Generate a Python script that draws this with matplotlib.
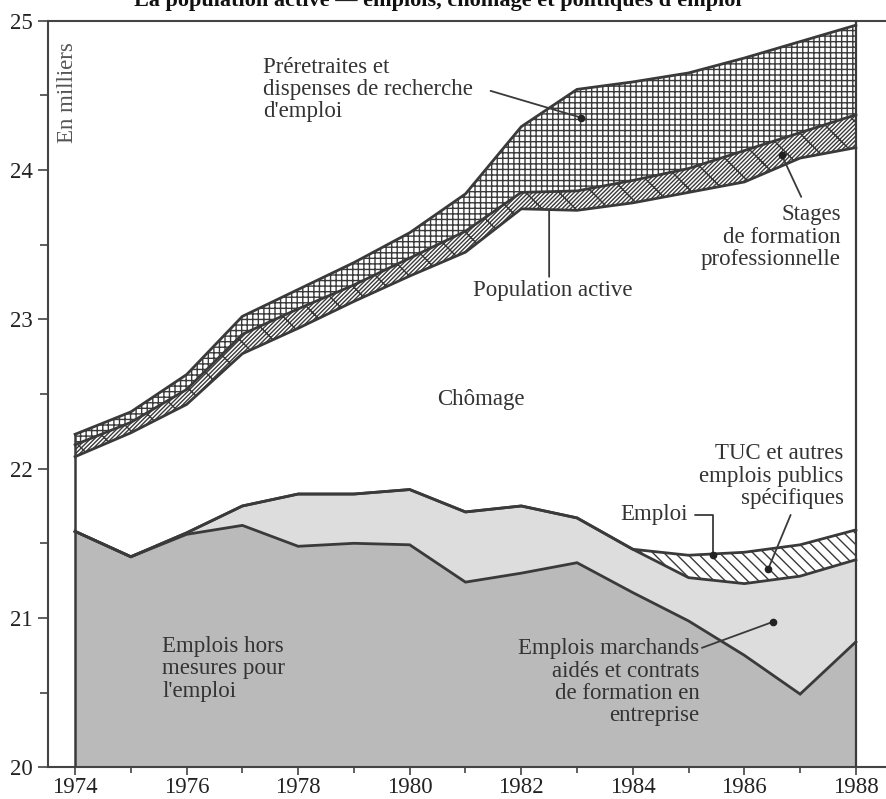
import matplotlib
matplotlib.use("Agg")
import matplotlib.pyplot as plt
from matplotlib.ticker import MultipleLocator

# ---------------- data (millions, levels) ----------------
years = list(range(1974, 1989))
emplois_hors_mesures = [21.58, 21.41, 21.56, 21.62, 21.48, 21.50, 21.49, 21.24,
                        21.30, 21.37, 21.17, 20.98, 20.75, 20.49, 20.84]
emploi_hors_tuc = [21.58, 21.41, 21.57, 21.75, 21.83, 21.83, 21.86, 21.71,
                   21.75, 21.67, 21.46, 21.27, 21.23, 21.28, 21.39]
emploi_total = [21.58, 21.41, 21.57, 21.75, 21.83, 21.83, 21.86, 21.71,
                21.75, 21.67, 21.46, 21.42, 21.44, 21.49, 21.59]
population_active = [22.08, 22.24, 22.43, 22.77, 22.94, 23.12, 23.29, 23.45,
                     23.74, 23.73, 23.78, 23.85, 23.92, 24.08, 24.15]
pop_plus_stages = [22.16, 22.31, 22.53, 22.90, 23.07, 23.23, 23.41, 23.59,
                   23.85, 23.86, 23.93, 24.01, 24.13, 24.25, 24.37]
pop_plus_stages_preretraites = [22.23, 22.38, 22.63, 23.02, 23.20, 23.38, 23.58, 23.84,
                                24.29, 24.54, 24.59, 24.65, 24.75, 24.86, 24.97]

year_ticks = [1974, 1976, 1978, 1980, 1982, 1984, 1986, 1988]
y_ticks = [20, 21, 22, 23, 24, 25]
title = "La population active — emplois, chômage et politiques d'emploi"

# ---------------- style ----------------
plt.rcParams['font.family'] = ['Liberation Serif', 'DejaVu Serif']
plt.rcParams['hatch.color'] = '#3a3a3a'
plt.rcParams['hatch.linewidth'] = 1.0

LINE = '#3a3a3a'
TXT = '#333333'
DARK = '#bababa'
LIGHT = '#dddddd'

fig = plt.figure(figsize=(8.86, 7.99), dpi=100)
ax = fig.add_axes([0.0542, 0.0397, 1.0 - 0.0542, 0.9741 - 0.0397])
ax.set_xlim(1973.515, 1988.54)
ax.set_ylim(20, 25)

y0 = 20
ax.fill_between(years, y0, emplois_hors_mesures, color=DARK, lw=0, zorder=1)
ax.fill_between(years, emplois_hors_mesures, emploi_hors_tuc, color=LIGHT, lw=0, zorder=1)
ax.fill_between(years, emploi_hors_tuc, emploi_total, facecolor='white',
                edgecolor=LINE, hatch='\\\\\\', lw=0, zorder=1)
ax.fill_between(years, population_active, pop_plus_stages, facecolor='white',
                edgecolor=LINE, hatch='////////\\', lw=0, zorder=1)
ax.fill_between(years, pop_plus_stages, pop_plus_stages_preretraites, facecolor='white',
                edgecolor=LINE, hatch='+++', lw=0, zorder=1)

for s in (emplois_hors_mesures, emploi_hors_tuc, emploi_total, population_active,
          pop_plus_stages, pop_plus_stages_preretraites):
    ax.plot(years, s, color=LINE, lw=2.0, solid_joinstyle='miter', zorder=3)

ax.vlines(years[0], y0, pop_plus_stages_preretraites[0], color=LINE, lw=1.8, zorder=3)
ax.axvline(years[-1], color=LINE, lw=1.6, zorder=3)

# ---------------- axes styling ----------------
ax.spines['right'].set_visible(False)
for sp in ('left', 'top', 'bottom'):
    ax.spines[sp].set_color('#444444')
    ax.spines[sp].set_linewidth(1.5)

ax.set_xticks(year_ticks)
ax.set_xticklabels([str(y) for y in year_ticks])
ax.xaxis.set_minor_locator(MultipleLocator(1))
ax.set_yticks(y_ticks)
ax.set_yticklabels([str(y) for y in y_ticks])
ax.yaxis.set_minor_locator(MultipleLocator(0.5))
ax.tick_params(axis='x', which='major', direction='out', length=5.5, width=1.2,
               colors='#444444', labelcolor='#222222', labelsize=16.5, pad=1.5)
ax.tick_params(axis='x', which='minor', direction='out', length=4, width=1.2, colors='#444444')
ax.tick_params(axis='y', which='major', direction='out', length=7, width=1.2,
               colors='#444444', labelcolor='#222222', labelsize=16.5, pad=4)
ax.tick_params(axis='y', which='minor', direction='out', length=5.5, width=1.2, colors='#444444')

# ---------------- texts ----------------
fs = 16.5
LS = 1.08
ax.text(1973.87, 24.52, 'En milliers', rotation=90, ha='center', va='center',
        fontsize=16.5, color='#555555')

ax.text(1977.37, 24.54, "Préretraites et\ndispenses de recherche\nd'emploi",
        ha='left', va='center', fontsize=fs, color=TXT, linespacing=LS)
ax.annotate('', xy=(1983.08, 24.35), xytext=(1981.45, 24.53),
            arrowprops=dict(arrowstyle='-', color=LINE, lw=1.3, shrinkA=0, shrinkB=0))
ax.plot([1983.08], [24.35], 'o', color='#222222', ms=4.5, zorder=5)

ax.text(1982.57, 23.19, 'Population active', ha='center', va='center',
        fontsize=fs, color=TXT)
ax.annotate('', xy=(1982.50, 23.735), xytext=(1982.50, 23.285),
            arrowprops=dict(arrowstyle='-', color=LINE, lw=1.3, shrinkA=0, shrinkB=0))

ax.text(1987.73, 23.55, 'Stages\nde formation\nprofessionnelle', ha='right', va='center',
        fontsize=fs, color=TXT, linespacing=LS)
ax.annotate('', xy=(1986.67, 24.10), xytext=(1987.02, 23.82),
            arrowprops=dict(arrowstyle='-', color=LINE, lw=1.3, shrinkA=0, shrinkB=0))
ax.plot([1986.67], [24.10], 'o', color='#222222', ms=4.5, zorder=5)

ax.text(1981.28, 22.46, 'Chômage', ha='center', va='center', fontsize=fs, color=TXT)

ax.text(1987.78, 21.95, 'TUC et autres\nemplois publics\nspécifiques', ha='right', va='center',
        fontsize=fs, color=TXT, linespacing=LS)
ax.annotate('', xy=(1986.43, 21.33), xytext=(1986.83, 21.69),
            arrowprops=dict(arrowstyle='-', color=LINE, lw=1.3, shrinkA=0, shrinkB=0))
ax.plot([1986.43], [21.33], 'o', color='#222222', ms=4.5, zorder=5)

ax.annotate('Emploi', xy=(1985.44, 21.42), xytext=(1984.99, 21.69),
            ha='right', va='center', fontsize=fs, color=TXT,
            arrowprops=dict(arrowstyle='-', color=LINE, lw=1.3, shrinkA=3, shrinkB=0,
                            connectionstyle='angle,angleA=0,angleB=90,rad=0'))
ax.plot([1985.44], [21.42], 'o', color='#222222', ms=4.5, zorder=5)

ax.text(1985.20, 20.57, 'Emplois marchands\naidés et contrats\nde formation en\nentreprise',
        ha='right', va='center', fontsize=fs, color=TXT, linespacing=LS)
ax.annotate('', xy=(1986.52, 20.975), xytext=(1985.24, 20.80),
            arrowprops=dict(arrowstyle='-', color=LINE, lw=1.3, shrinkA=0, shrinkB=0))
ax.plot([1986.52], [20.975], 'o', color='#222222', ms=4.5, zorder=5)

ax.text(1975.56, 20.66, "Emplois hors\nmesures pour\nl'emploi", ha='left', va='center',
        fontsize=fs, color=TXT, linespacing=LS)

fig.text(0.494, 1 - 6 / 799, title, ha='center', va='baseline', fontsize=16,
         fontweight='bold', color='#111111')

fig.savefig('out.png', dpi=100)
